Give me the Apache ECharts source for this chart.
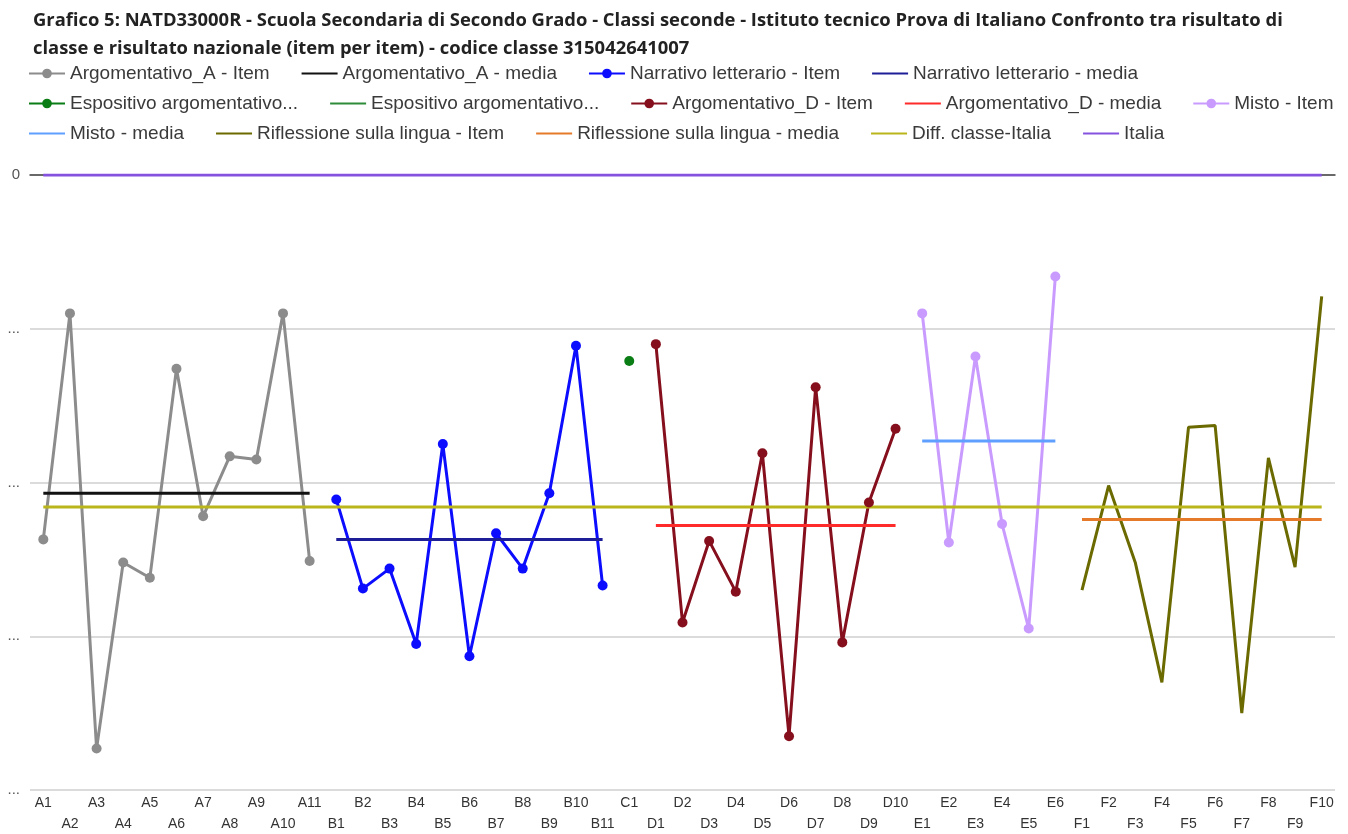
<!DOCTYPE html>
<html>
<head>
<meta charset="utf-8">
<title>Grafico 5</title>
<script src="https://cdn.jsdelivr.net/npm/echarts@6/dist/echarts.min.js"></script>
<style>
  html, body { margin: 0; padding: 0; background: #fff; }
  #chart { width: 1348px; height: 834px; }
</style>
</head>
<body>
<div id="chart"></div>
<script>
// categorie (item) per gruppo
const catA = ['A1','A2','A3','A4','A5','A6','A7','A8','A9','A10','A11'];
const catB = ['B1','B2','B3','B4','B5','B6','B7','B8','B9','B10','B11'];
const catC = ['C1'];
const catD = ['D1','D2','D3','D4','D5','D6','D7','D8','D9','D10'];
const catE = ['E1','E2','E3','E4','E5','E6'];
const catF = ['F1','F2','F3','F4','F5','F6','F7','F8','F9','F10'];

// risultati item per item (differenza rispetto a Italia)
const argomentativoA = [-23.7, -9.0, -37.3, -25.2, -26.2, -12.6, -22.2, -18.3, -18.5, -9.0, -25.1];
const narrativo      = [-21.1, -26.9, -25.6, -30.5, -17.5, -31.3, -23.3, -25.6, -20.7, -11.1, -26.7];
const espositivo     = [-12.1];
const argomentativoD = [-11.0, -29.1, -23.8, -27.1, -18.1, -36.5, -13.8, -30.4, -21.3, -16.5];
const misto          = [-9.0, -23.9, -11.8, -22.7, -29.5, -6.6];
const riflessione    = [-27.0, -20.2, -25.2, -33.0, -16.4, -16.3, -35.0, -18.4, -25.5, -7.9];

// medie per gruppo
const mediaA = -20.7, mediaB = -23.7, mediaC = -12.1, mediaD = -22.8, mediaE = -17.3, mediaF = -22.4;
const diffClasseItalia = -21.6;
const italia = 0;

// tick asse y
const yTicks = [0, -10, -20, -30, -40];

const groups = [catA, catB, catC, catD, catE, catF];
const categories = [].concat(...groups);

// mette i valori del gruppo g al loro posto, null altrove
function pad(g, vals) {
  let out = categories.map(() => null);
  let start = 0;
  for (let i = 0; i < g; i++) start += groups[i].length;
  vals.forEach((v, i) => { out[start + i] = v; });
  return out;
}
function flat(g, v) {
  return pad(g, groups[g].map(() => v));
}

function item(name, color, data, sym) {
  return {
    name: name, type: 'line', data: data,
    symbol: sym === false ? 'none' : 'circle', symbolSize: 10,
    showSymbol: sym !== false,
    lineStyle: { color: color, width: 3 },
    itemStyle: { color: color },
    connectNulls: false, animation: false
  };
}
function media(name, color, data) {
  return {
    name: name, type: 'line', data: data, symbol: 'none',
    lineStyle: { color: color, width: 3 },
    itemStyle: { color: color },
    animation: false
  };
}

const series = [
  item('Argomentativo_A - Item', '#8c8c8c', pad(0, argomentativoA)),
  media('Argomentativo_A - media', '#111111', flat(0, mediaA)),
  item('Narrativo letterario - Item', '#0c0cff', pad(1, narrativo)),
  media('Narrativo letterario - media', '#1e1e98', flat(1, mediaB)),
  item('Espositivo argomentativo - Item', '#0a7d14', pad(2, espositivo)),
  media('Espositivo argomentativo - media', '#2e8b3a', flat(2, mediaC)),
  item('Argomentativo_D - Item', '#850f1c', pad(3, argomentativoD)),
  media('Argomentativo_D - media', '#ff2a2a', flat(3, mediaD)),
  item('Misto - Item', '#c99bff', pad(4, misto)),
  media('Misto - media', '#5f9fff', flat(4, mediaE)),
  item('Riflessione sulla lingua - Item', '#6b6a00', pad(5, riflessione), false),
  media('Riflessione sulla lingua - media', '#e57a2a', flat(5, mediaF)),
  media('Diff. classe-Italia', '#b9b51a', categories.map(() => diffClasseItalia)),
  media('Italia', '#8452df', categories.map(() => italia))
];

const legendFont = { fontFamily: 'Liberation Sans', fontSize: 19, color: '#3a3a3a' };
function legendRow(list, top) {
  return {
    // niente pallino nella legenda per le serie senza simbolo
    data: list.map(s => s.symbol === 'none' ? { name: s.name, itemStyle: { opacity: 0 } } : s.name),
    left: 28, top: top, itemWidth: 36, itemHeight: 12, itemGap: 31,
    textStyle: legendFont, padding: 0,
    formatter: n => n.indexOf('Espositivo') === 0 ? 'Espositivo argomentativo...' : n
  };
}

const chart = echarts.init(document.getElementById('chart'));
chart.setOption({
  backgroundColor: '#fff',
  title: {
    text: 'Grafico 5: NATD33000R - Scuola Secondaria di Secondo Grado - Classi seconde - Istituto tecnico Prova di Italiano Confronto tra risultato di\nclasse e risultato nazionale (item per item) - codice classe 315042641007',
    left: 28, top: 2,
    textStyle: { fontFamily: 'Open Sans', fontWeight: 'bold', fontSize: 18.4, color: '#222', lineHeight: 28 }
  },
  legend: [
    legendRow(series.slice(0, 4), 64),
    legendRow(series.slice(4, 9), 94),
    legendRow(series.slice(9, 14), 124)
  ],
  grid: { left: 30, right: 13, top: 175, bottom: 44, outerBoundsMode: 'none' },
  xAxis: [{
    type: 'category', data: categories, boundaryGap: true,
    axisLine: { show: false }, axisTick: { show: false },
    axisLabel: {
      interval: 0, margin: 3, fontFamily: 'Liberation Sans', fontSize: 14, color: '#333', lineHeight: 21,
      formatter: (v, i) => i % 2 ? '\n' + v : v
    }
  }, {
    type: 'category', data: categories, position: 'top',
    axisLine: { show: true, lineStyle: { color: '#444', width: 1.5 } },
    axisTick: { show: false }, axisLabel: { show: false }
  }],
  yAxis: {
    type: 'value', min: yTicks[yTicks.length - 1], max: yTicks[0], interval: 10,
    axisLine: { show: false }, axisTick: { show: false },
    splitLine: { lineStyle: { color: '#cfcfcf', width: 1.5 } },
    axisLabel: {
      margin: 10, fontFamily: 'Liberation Sans', color: '#555', fontSize: 15,
      formatter: v => v === 0 ? '0' : '...'
    }
  },
  series: series
});
</script>
</body>
</html>
